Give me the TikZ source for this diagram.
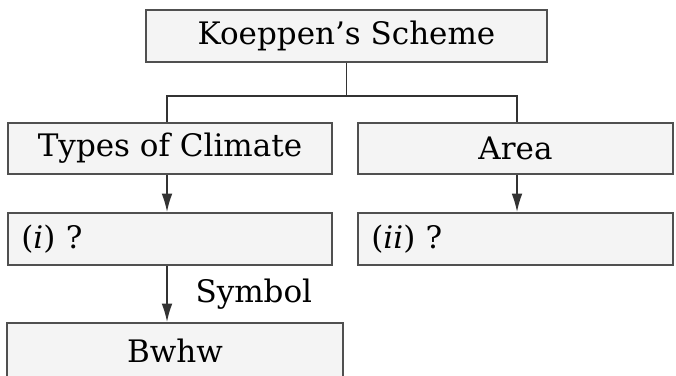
\documentclass[tikz,border=0pt]{standalone}
\usepackage{fontspec}
\setmainfont{DejaVu Serif}
\usepackage{tikz}
\usetikzlibrary{calc, arrows.meta, positioning}
\tikzset{>=latex}
\definecolor{mygray1}{RGB}{244, 244, 244}
\definecolor{mygray2}{RGB}{80, 80, 80}

\begin{document}
\begin{tikzpicture}[
    x = 0.3pt, y = -0.3pt,
    b0/.style = {draw = mygray2, fill = mygray1, line width = 0.6pt, inner sep = 0pt, font = \fontsize{9.3}{11}\selectfont},
    d0/.style = {line width = 0.45pt, draw = black!80},
    d1/.style = {d0, -{Latex[length=5.5pt, width=3.2pt]}},
]
\useasboundingbox (0,0) rectangle (676,375);

\node[b0, minimum width = 401*0.3pt, minimum height = 52*0.3pt] (scheme) at (346.5, 36) {Koeppen's Scheme};

\node[b0, minimum width = 324*0.3pt, minimum height = 51*0.3pt] (types) at (170, 148.5) {Types of Climate};
\node[b0, minimum width = 315*0.3pt, minimum height = 51*0.3pt] (area) at (515.5, 148.5) {Area};

\node[b0, minimum width = 324*0.3pt, minimum height = 52*0.3pt, text width = 324*0.3pt - 8pt, align = left] (one) at (170, 239) {(\textit{i}) ?};
\node[b0, minimum width = 315*0.3pt, minimum height = 52*0.3pt, text width = 315*0.3pt - 8pt, align = left] (two) at (515.5, 239) {(\textit{ii}) ?};

\node[b0, minimum width = 336*0.3pt, minimum height = 56*0.3pt] (bwhw) at (175, 351) {Bwhw};

% branches
\draw[d0] (scheme.south) -- ++(0, 33) coordinate (fork);
\draw[d0] ($(types.north) + (-3, 0)$) |- (fork) -| ($(area.north) + (1.5, 0)$);

\draw[d1] ($(types.south) + (-3, 0)$) -- ($(one.north) + (-3, 0)$);
\draw[d1] ($(area.south) + (1.5, 0)$) -- ($(two.north) + (1.5, 0)$);
\draw[d1] ($(one.south) + (-3, 0)$) -- node[right = 5pt, font = \fontsize{9.3}{11}\selectfont] (symbol) {Symbol} ($(bwhw.north) + (-8, 0)$);

\end{tikzpicture}
\end{document}
